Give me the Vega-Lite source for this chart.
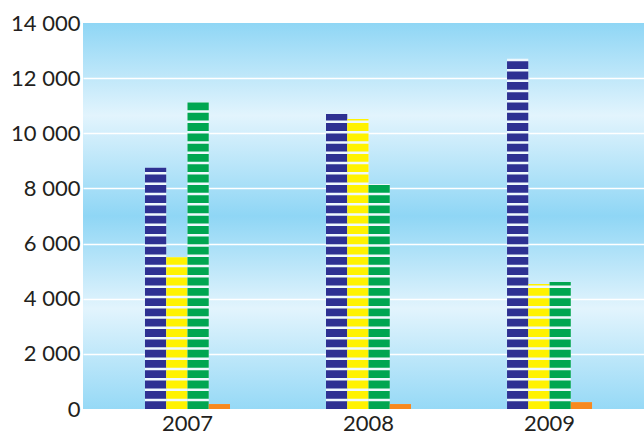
{
  "$schema": "https://vega.github.io/schema/vega-lite/v6.json",
  "width": 561,
  "height": 386,
  "autosize": "none",
  "padding": {"left": 83, "top": 23, "right": 0, "bottom": 27},
  "background": "white",
  "config": {
    "view": {
      "stroke": null,
      "fill": {
        "gradient": "linear", "x1": 0, "y1": 0, "x2": 0, "y2": 1,
        "stops": [
          {"offset": 0, "color": "#8fd6f5"},
          {"offset": 0.24, "color": "#e2f4fd"},
          {"offset": 0.5, "color": "#8fd6f5"},
          {"offset": 0.74, "color": "#e2f4fd"},
          {"offset": 1, "color": "#96d9f6"}
        ]
      }
    },
    "axis": {"labelFont": "Lato", "labelFontSize": 22, "labelColor": "#231f20"}
  },
  "data": {
    "values": [
      {"year": "2007", "series": "s1", "value": 8750},
      {"year": "2007", "series": "s2", "value": 5500},
      {"year": "2007", "series": "s3", "value": 11130},
      {"year": "2007", "series": "s4", "value": 180},
      {"year": "2008", "series": "s1", "value": 10700},
      {"year": "2008", "series": "s2", "value": 10520},
      {"year": "2008", "series": "s3", "value": 8160},
      {"year": "2008", "series": "s4", "value": 180},
      {"year": "2009", "series": "s1", "value": 12700},
      {"year": "2009", "series": "s2", "value": 4530},
      {"year": "2009", "series": "s3", "value": 4610},
      {"year": "2009", "series": "s4", "value": 250}
    ]
  },
  "encoding": {
    "x": {
      "field": "year", "type": "nominal",
      "scale": {"paddingInner": 0.5304, "paddingOuter": 0.3147, "align": 0.544},
      "axis": {"title": null, "labelAngle": 0, "ticks": false, "domain": false, "labelPadding": 4, "grid": false}
    },
    "xOffset": {"field": "series", "type": "nominal", "scale": {"paddingInner": 0, "paddingOuter": 0}}
  },
  "layer": [
    {
      "mark": {"type": "bar", "color": "#eef8fd"},
      "encoding": {
        "y": {
          "field": "value", "type": "quantitative",
          "scale": {"domain": [0, 14000], "nice": false},
          "axis": {
            "title": null, "domain": false, "ticks": false, "labelPadding": 3,
            "values": [0, 2000, 4000, 6000, 8000, 10000, 12000, 14000],
            "labelExpr": "replace(format(datum.value, ','), ',', ' ')",
            "grid": true, "gridColor": "#ffffff", "gridWidth": 1.5,
            "gridOpacity": {"condition": {"test": "datum.value === 0 || datum.value === 14000", "value": 0}, "value": 1}
          }
        }
      }
    },
    {
      "mark": {
        "type": "rule", "strokeWidth": 21.25, "strokeDash": [7.8, 2.5], "strokeCap": "butt",
        "strokeDashOffset": {"expr": "7.8 - ((scale('y', 0) - scale('y', datum.value)) % 10.3)"}
      },
      "encoding": {
        "y": {"field": "value", "type": "quantitative"},
        "y2": {"datum": 0},
        "color": {
          "field": "series", "type": "nominal",
          "scale": {"domain": ["s1", "s2", "s3", "s4"], "range": ["#2e3192", "#fff200", "#00a651", "#f7891f"]},
          "legend": null
        }
      }
    }
  ]
}
